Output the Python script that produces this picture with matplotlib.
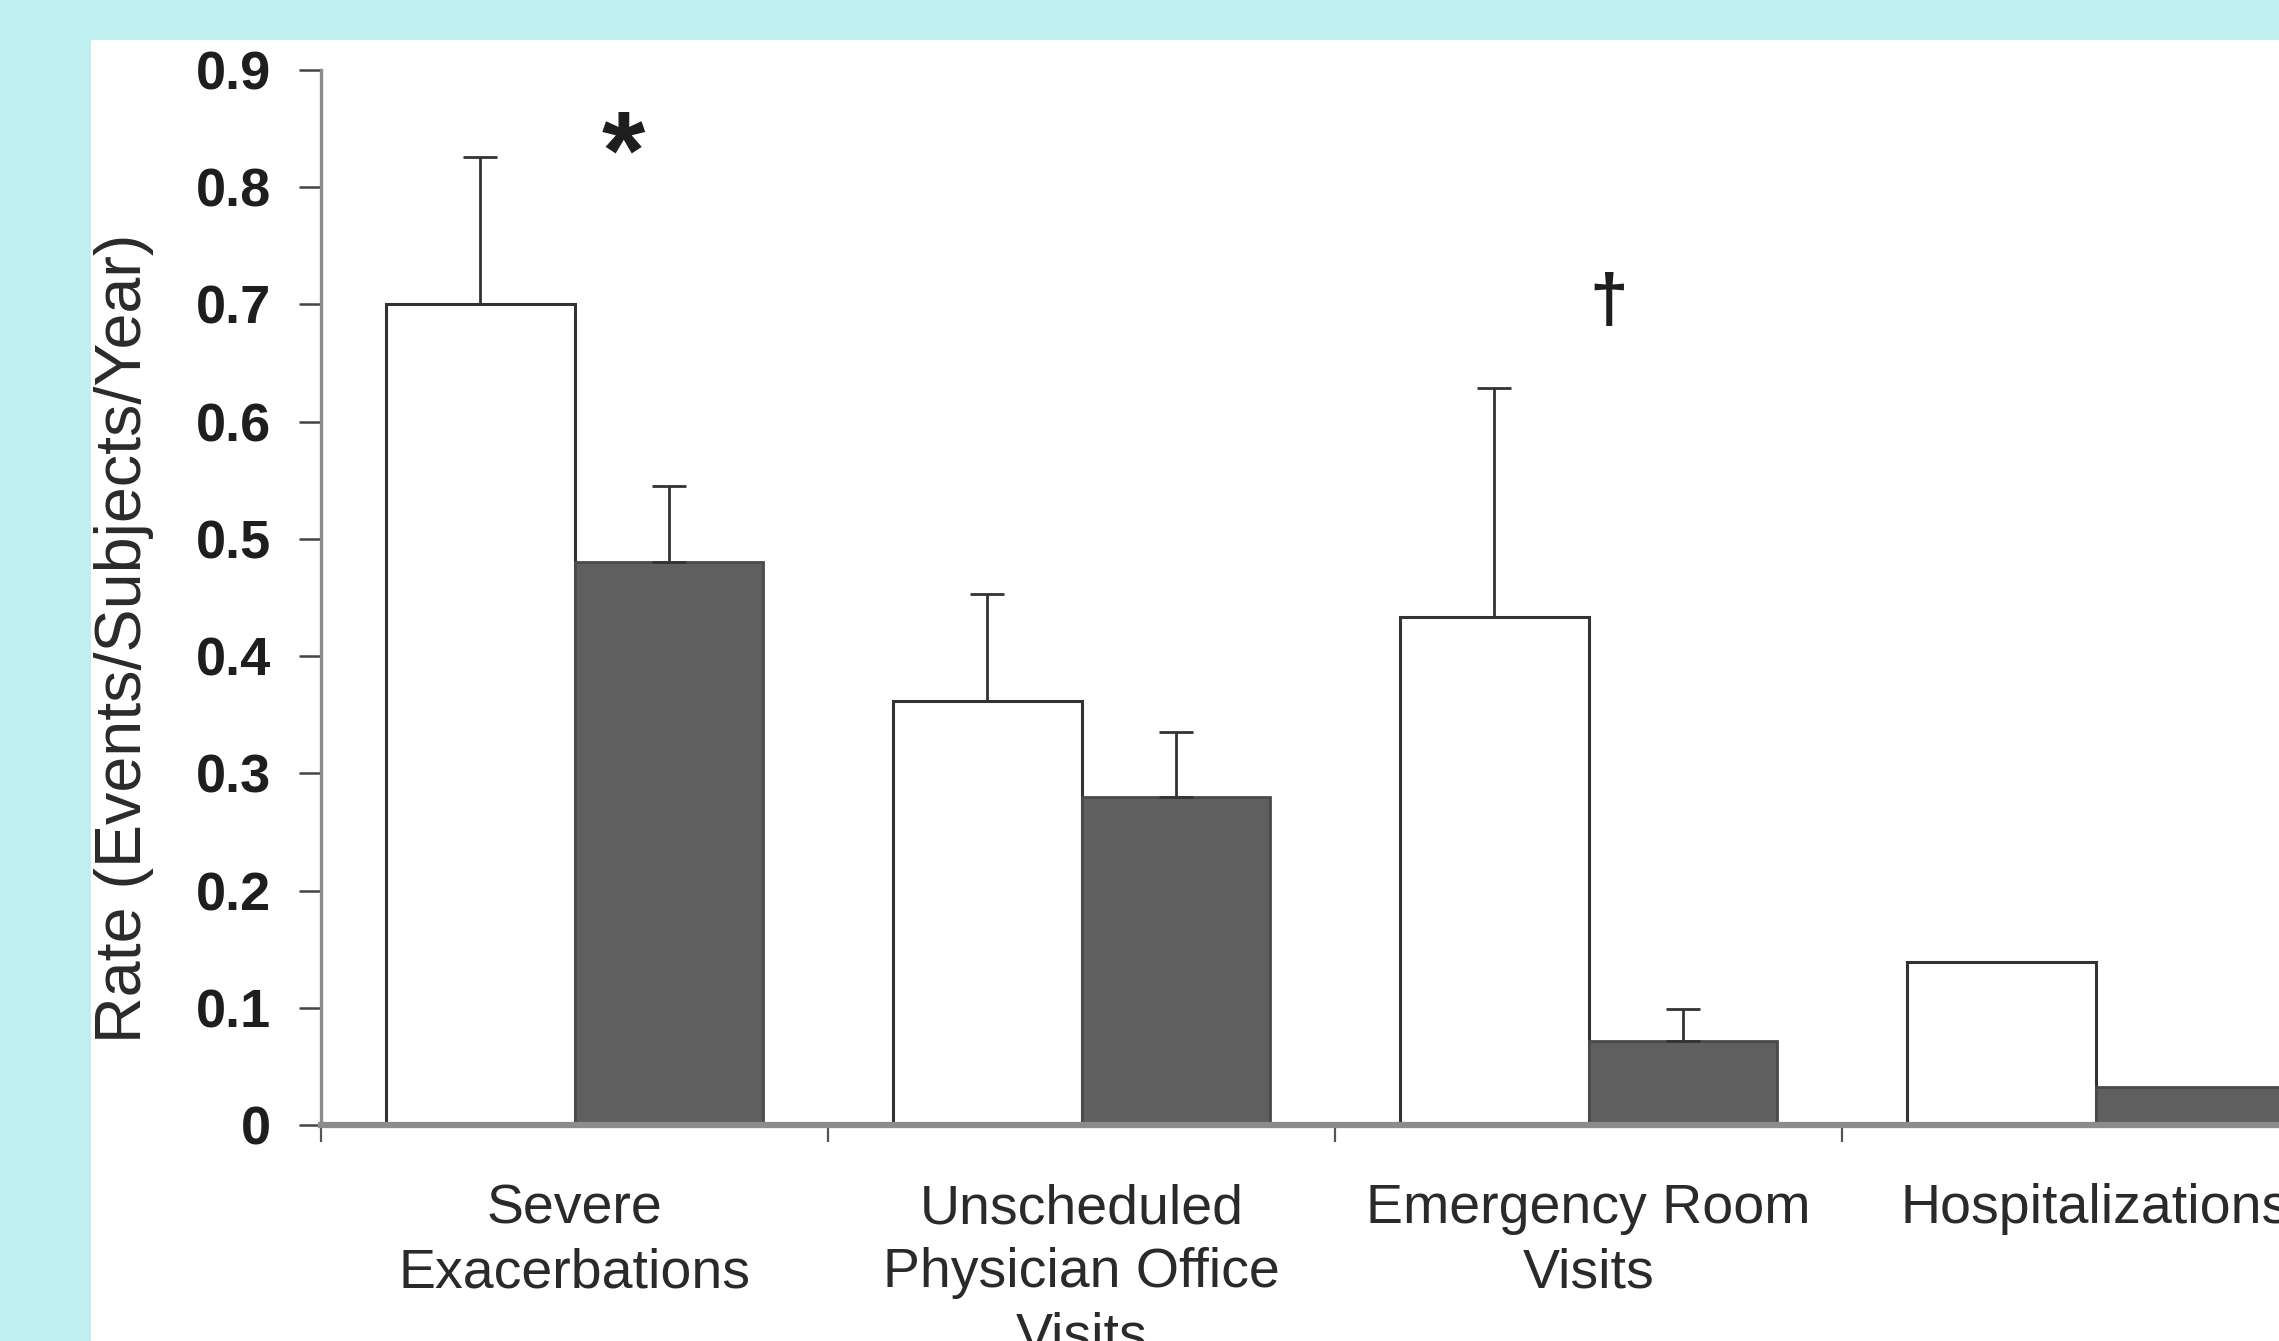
import numpy as np
import matplotlib
matplotlib.use("Agg")
import matplotlib.pyplot as plt
from matplotlib.patches import Rectangle

plt.rcParams["font.family"] = ["Liberation Sans", "DejaVu Sans"]

# --- data ---
categories = ["Severe\nExacerbations", "Unscheduled\nPhysician Office\nVisits",
              "Emergency Room\nVisits", "Hospitalizations"]
white_vals = [0.70, 0.362, 0.433, 0.139]
white_err = [0.126, 0.091, 0.196, None]
dark_vals = [0.480, 0.280, 0.072, 0.032]
dark_err = [0.065, 0.055, 0.027, None]
yticks = [0, 0.1, 0.2, 0.3, 0.4, 0.5, 0.6, 0.7, 0.8, 0.9]
ytick_labels = ["0", "0.1", "0.2", "0.3", "0.4", "0.5", "0.6", "0.7", "0.8", "0.9"]
marks = [("*", 0.096, 0.824, 80), ("\u2020", 2.04, 0.700, 50)]

CYAN, INK, EDGE, DARK, AXIS = "#bff0ef", "#1e1e1e", "#333333", "#5f5f5f", "#8c8c8c"
W = 0.371

fig = plt.figure(figsize=(22.79, 13.41), dpi=100, facecolor=CYAN)
fig.patches.append(Rectangle((91 / 2279, 0), 1, 1 - 40 / 1341, transform=fig.transFigure,
                             facecolor="white", edgecolor="none", zorder=-5))
ax = fig.add_axes([321 / 2279, 1 - 1125 / 1341, 2028 / 2279, 1055 / 1341])
ax.set_zorder(2)
ax.set_facecolor("none")

x = np.arange(len(categories))
ax.bar(x - W / 2, white_vals, W, color="white", edgecolor=EDGE, lw=2.2, zorder=2)
ax.bar(x + W / 2, dark_vals, W, color=DARK, edgecolor="#4a4a4a", lw=2.0, zorder=2)
for xs, vals, errs in [(x - W / 2, white_vals, white_err), (x + W / 2, dark_vals, dark_err)]:
    for xi, v, e in zip(xs, vals, errs):
        if e is None:
            continue
        ax.errorbar([xi], [v], yerr=[[0], [e]], fmt="none", ecolor=EDGE, elinewidth=2.0,
                    capsize=12, capthick=2.0, zorder=3)

for s, mx, my, fs in marks:
    ax.text(mx, my, s, fontsize=fs, fontweight="bold", color=INK, ha="center", va="center")

ax.set_xlim(-0.5, len(categories) - 0.5)
ax.set_ylim(0, 0.9)
ax.set_yticks(yticks)
ax.set_yticklabels(ytick_labels, fontsize=39, fontweight="bold", color=INK)
ax.set_xticks(x)
ax.set_xticklabels(categories, fontsize=40, color="#2a2a2a", linespacing=1.3)
ax.set_xticks(np.arange(len(categories) + 1) - 0.5, minor=True)
ax.tick_params(axis="x", which="major", length=0, pad=42)
ax.tick_params(axis="x", which="minor", length=12, width=1.6, color="#555555", direction="out")
ax.tick_params(axis="y", length=16, width=1.8, color="#444444", pad=20, direction="out")
ax.set_ylabel("Rate (Events/Subjects/Year)", fontsize=46.5, color="#2a2a2a")
ax.yaxis.set_label_coords(-0.0823, 0.461)
for s in ["top", "right"]:
    ax.spines[s].set_visible(False)
ax.spines["left"].set_color(AXIS); ax.spines["left"].set_linewidth(2.4)
ax.spines["bottom"].set_color(AXIS); ax.spines["bottom"].set_linewidth(4.5)
ax.spines["bottom"].set_zorder(4)

fig.savefig("out.png", dpi=100, facecolor=CYAN)
